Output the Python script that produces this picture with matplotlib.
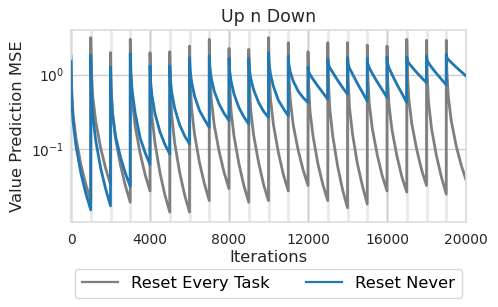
import matplotlib
matplotlib.use("Agg")
import matplotlib.pyplot as plt
import numpy as np

# ---- data ----
task_len = 1000
n_tasks = 20
offsets = [0, 30, 100, 250, 500, 750, 999]

reset_every_task = [
    [1.78, 0.66, 0.30, 0.14, 0.061, 0.033, 0.020],
    [3.15, 1.16, 0.51, 0.235, 0.103, 0.055, 0.033],
    [1.98, 0.71, 0.31, 0.14, 0.061, 0.032, 0.019],
    [2.99, 1.06, 0.45, 0.20, 0.087, 0.045, 0.027],
    [1.98, 0.67, 0.27, 0.12, 0.048, 0.024, 0.014],
    [2.04, 0.68, 0.28, 0.12, 0.048, 0.024, 0.014],
    [2.43, 0.85, 0.36, 0.16, 0.066, 0.034, 0.020],
    [2.99, 1.08, 0.47, 0.21, 0.092, 0.048, 0.029],
    [2.26, 0.79, 0.33, 0.15, 0.063, 0.032, 0.019],
    [2.19, 0.78, 0.33, 0.15, 0.065, 0.033, 0.020],
    [3.15, 1.10, 0.47, 0.21, 0.089, 0.045, 0.027],
    [2.70, 1.01, 0.46, 0.21, 0.096, 0.052, 0.032],
    [2.04, 0.74, 0.32, 0.15, 0.063, 0.033, 0.020],
    [2.70, 0.88, 0.35, 0.15, 0.058, 0.028, 0.016],
    [2.70, 0.90, 0.36, 0.16, 0.063, 0.032, 0.018],
    [2.50, 0.93, 0.41, 0.19, 0.084, 0.044, 0.027],
    [2.43, 0.89, 0.39, 0.18, 0.080, 0.042, 0.026],
    [2.99, 1.10, 0.48, 0.22, 0.099, 0.052, 0.032],
    [2.90, 1.01, 0.43, 0.19, 0.081, 0.042, 0.0245],
    [2.90, 1.11, 0.51, 0.24, 0.11, 0.061, 0.038],
]

reset_never = [
    [1.50, 0.54, 0.24, 0.11, 0.047, 0.025, 0.015],
    [1.84, 0.66, 0.28, 0.13, 0.055, 0.029, 0.017],
    [1.27, 0.56, 0.29, 0.15, 0.078, 0.047, 0.031],
    [1.92, 1.03, 0.59, 0.30, 0.14, 0.089, 0.061],
    [1.31, 0.80, 0.52, 0.30, 0.17, 0.115, 0.085],
    [1.31, 0.85, 0.57, 0.35, 0.21, 0.15, 0.116],
    [1.69, 1.15, 0.81, 0.52, 0.33, 0.25, 0.194],
    [1.78, 1.24, 0.90, 0.60, 0.40, 0.30, 0.24],
    [1.66, 1.15, 0.83, 0.55, 0.36, 0.27, 0.215],
    [1.66, 1.19, 0.89, 0.62, 0.42, 0.32, 0.264],
    [1.98, 1.39, 1.01, 0.69, 0.45, 0.35, 0.278],
    [1.78, 1.37, 1.09, 0.82, 0.60, 0.49, 0.42],
    [1.27, 1.10, 1.00, 0.87, 0.70, 0.57, 0.466],
    [1.61, 1.38, 1.24, 1.07, 0.84, 0.67, 0.544],
    [1.69, 1.40, 1.22, 1.02, 0.76, 0.58, 0.44],
    [1.66, 1.40, 1.24, 1.04, 0.80, 0.63, 0.49],
    [1.73, 1.42, 1.23, 1.01, 0.74, 0.56, 0.42],
    [1.73, 1.55, 1.43, 1.28, 1.07, 0.91, 0.78],
    [1.78, 1.57, 1.44, 1.26, 1.04, 0.87, 0.726],
    [1.88, 1.71, 1.60, 1.46, 1.26, 1.10, 0.96],
]

series_labels = ["Reset Every Task", "Reset Never"]
x_ticks = [0, 4000, 8000, 12000, 16000, 20000]

# ---- build x positions ----
x = np.concatenate([t * task_len + np.array(offsets) for t in range(n_tasks)])
y_gray = np.concatenate(reset_every_task)
y_blue = np.concatenate(reset_never)

plt.rcParams['font.family'] = ['DejaVu Sans']
fig = plt.figure(figsize=(4.98, 3.07), dpi=100)
ax = fig.add_axes([0.1426, 0.2769, 0.7932, 0.6254])

for t in range(n_tasks + 1):
    ax.axvline(t * task_len, color='#e6e6e6', lw=1.8, zorder=0.5)

ax.plot(x, y_gray, color='#7f7f7f', lw=2.0, label=series_labels[0], zorder=2)
ax.plot(x, y_blue, color='#1f77b4', lw=2.0, label=series_labels[1], zorder=3)

ax.set_yscale('log')
ax.set_ylim(0.0103, 4.0)
ax.set_xlim(0, 20000)
ax.set_xticks(x_ticks)
ax.set_xticklabels([str(v) for v in x_ticks])
ax.yaxis.set_minor_formatter(matplotlib.ticker.NullFormatter())
ax.tick_params(which='both', length=0, labelsize=10, colors='#262626')
ax.tick_params(axis='x', pad=8)
ax.tick_params(axis='y', pad=5)
ax.grid(True, which='major', color='#cccccc', lw=1.0, zorder=0.4)
ax.grid(False, which='minor')
ax.set_axisbelow(True)
for s in ax.spines.values():
    s.set_color('#dddddd')
    s.set_linewidth(1.2)

ax.set_title("Up n Down", fontsize=12.5, color='#262626', pad=6)
ax.set_xlabel("Iterations", fontsize=11.8, color='#262626', labelpad=2)
ax.set_ylabel("Value Prediction MSE", fontsize=11.8, color='#262626', labelpad=4)

leg = ax.legend(loc='upper center', bbox_to_anchor=(0.5, -0.2), ncol=2,
                fontsize=11.8, frameon=True, handlelength=2.2, columnspacing=2.2,
                borderpad=0.45)
leg.get_frame().set_edgecolor('#cccccc')
for line in leg.get_lines():
    line.set_linewidth(1.6)

fig.savefig("out.png", dpi=100)
